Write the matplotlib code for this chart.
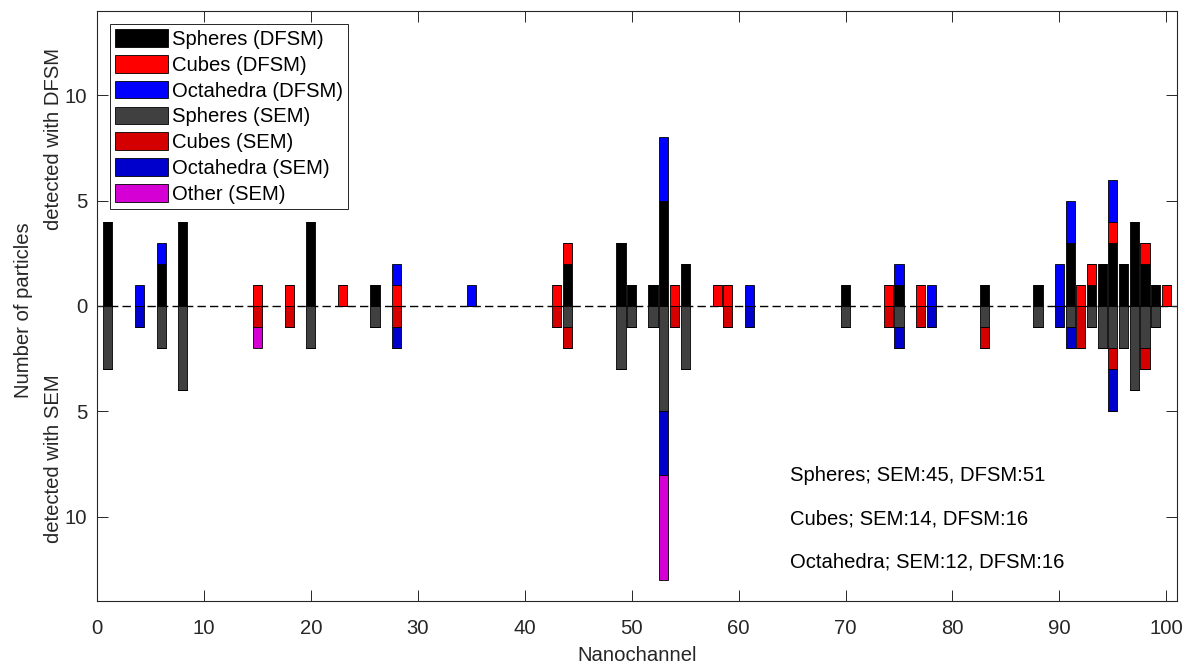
import numpy as np
import matplotlib as mpl

mpl.use('Agg')
import matplotlib.pyplot as plt

plt.rcParams['font.family'] = ['Liberation Sans', 'DejaVu Sans']
FS = 14.6
plt.rcParams['font.size'] = FS

# nanochannels that have at least one particle
channels = [1, 4, 6, 8, 15, 18, 20, 23, 26, 28,
            35, 43, 44, 49, 50, 52, 53, 54, 55, 58,
            59, 61, 70, 74, 75, 77, 78, 83, 88, 90,
            91, 92, 93, 94, 95, 96, 97, 98, 99, 100]

# counts detected with DFSM (plotted upwards)
spheres_dfsm = [4, 0, 2, 4, 0, 0, 4, 0, 1, 0,
                0, 0, 2, 3, 1, 1, 5, 0, 2, 0,
                0, 0, 1, 0, 1, 0, 0, 1, 1, 0,
                3, 0, 1, 2, 3, 2, 4, 2, 1, 0]
cubes_dfsm = [0, 0, 0, 0, 1, 1, 0, 1, 0, 1,
              0, 1, 1, 0, 0, 0, 0, 1, 0, 1,
              1, 0, 0, 1, 0, 1, 0, 0, 0, 0,
              0, 1, 1, 0, 1, 0, 0, 1, 0, 1]
octa_dfsm = [0, 1, 1, 0, 0, 0, 0, 0, 0, 1,
             1, 0, 0, 0, 0, 0, 3, 0, 0, 0,
             0, 1, 0, 0, 1, 0, 1, 0, 0, 2,
             2, 0, 0, 0, 2, 0, 0, 0, 0, 0]

# counts detected with SEM (plotted downwards)
spheres_sem = [3, 0, 2, 4, 0, 0, 2, 0, 1, 0,
               0, 0, 1, 3, 1, 1, 5, 0, 3, 0,
               0, 0, 1, 0, 1, 0, 0, 1, 1, 0,
               1, 0, 1, 2, 2, 2, 4, 2, 1, 0]
cubes_sem = [0, 0, 0, 0, 1, 1, 0, 0, 0, 1,
             0, 1, 1, 0, 0, 0, 0, 1, 0, 0,
             1, 0, 0, 1, 0, 1, 0, 1, 0, 0,
             0, 2, 0, 0, 1, 0, 0, 1, 0, 0]
octa_sem = [0, 1, 0, 0, 0, 0, 0, 0, 0, 1,
            0, 0, 0, 0, 0, 0, 3, 0, 0, 0,
            0, 1, 0, 0, 1, 0, 1, 0, 0, 1,
            1, 0, 0, 0, 2, 0, 0, 0, 0, 0]
other_sem = [0, 0, 0, 0, 1, 0, 0, 0, 0, 0,
             0, 0, 0, 0, 0, 0, 5, 0, 0, 0,
             0, 0, 0, 0, 0, 0, 0, 0, 0, 0,
             0, 0, 0, 0, 0, 0, 0, 0, 0, 0]

summary = ['Spheres; SEM:45, DFSM:51',
           'Cubes; SEM:14, DFSM:16',
           'Octahedra; SEM:12, DFSM:16']

dfsm_series = [(spheres_dfsm, 'Spheres (DFSM)', '#000000'),
               (cubes_dfsm, 'Cubes (DFSM)', '#ff0000'),
               (octa_dfsm, 'Octahedra (DFSM)', '#0000ff')]
sem_series = [(spheres_sem, 'Spheres (SEM)', '#404040'),
              (cubes_sem, 'Cubes (SEM)', '#d40000'),
              (octa_sem, 'Octahedra (SEM)', '#0000cc'),
              (other_sem, 'Other (SEM)', '#d400d4')]

fig = plt.figure(figsize=(11.94, 6.70), dpi=100)
ax = fig.add_axes([0.0812, 0.103, 0.9046, 0.8806])

x = np.array(channels)
w = 0.85
ax.axhline(0, color='k', ls='--', lw=1, dashes=(6, 3), zorder=1)

handles = []
bottom = np.zeros(len(x))
for vals, name, col in dfsm_series:
    v = np.array(vals, dtype=float)
    b = ax.bar(x, v, w, bottom=bottom, color=col, edgecolor='k', lw=0.6,
               label=name, zorder=2)
    handles.append(b)
    bottom += v

bottom = np.zeros(len(x))
for vals, name, col in sem_series:
    v = -np.array(vals, dtype=float)
    b = ax.bar(x, v, w, bottom=bottom, color=col, edgecolor='k', lw=0.6,
               label=name, zorder=2)
    handles.append(b)
    bottom += v

ax.set_xlim(0, 101)
ax.set_ylim(-14, 14)
ax.set_xticks(range(0, 101, 10))
ax.set_yticks([-10, -5, 0, 5, 10])
ax.set_yticklabels(['10', '5', '0', '5', '10'])
ax.tick_params(direction='in', length=8, width=0.7, top=True, right=True,
               colors='#262626', labelsize=FS)
ax.tick_params(axis='x', pad=13)
ax.tick_params(axis='y', pad=7)
for s in ax.spines.values():
    s.set_color('#262626')
    s.set_linewidth(0.8)

ax.set_xlabel('Nanochannel', fontsize=FS, color='#262626', labelpad=6)

fig.text(0.020, 0.537, 'Number of particles', rotation=90, ha='center',
         va='center', fontsize=FS, color='#262626')
fig.text(0.0444, 0.793, 'detected with DFSM', rotation=90, ha='center',
         va='center', fontsize=FS, color='#262626')
fig.text(0.0444, 0.316, 'detected with SEM', rotation=90, ha='center',
         va='center', fontsize=FS, color='#262626')

for i, txt in enumerate(summary):
    ax.text(64.8, -8.05 - 2.05 * i, txt, ha='left', va='center', fontsize=FS)

leg = ax.legend(handles=handles, loc='upper left', fontsize=FS,
                fancybox=False, framealpha=1, edgecolor='#262626',
                handlelength=2.6, handleheight=0.95, handletextpad=0.2,
                labelspacing=0.3, borderpad=0.25, borderaxespad=0.65)
leg.get_frame().set_linewidth(0.7)

fig.savefig('out.png', dpi=100)
